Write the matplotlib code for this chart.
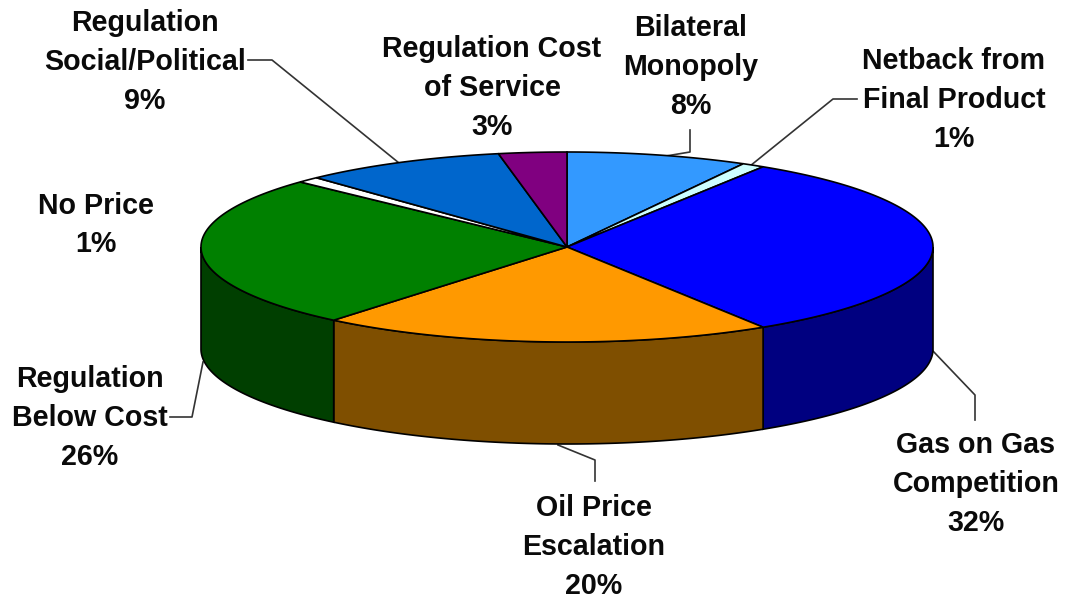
import numpy as np
import matplotlib
matplotlib.use("Agg")
import matplotlib.pyplot as plt
from matplotlib.patches import Polygon

names = ["Bilateral\nMonopoly", "Netback from\nFinal Product", "Gas on Gas\nCompetition",
         "Oil Price\nEscalation", "Regulation\nBelow Cost", "No Price",
         "Regulation\nSocial/Political", "Regulation Cost\nof Service"]
values = [8, 1, 32, 20, 26, 1, 9, 3]
top_colors = ["#3399ff", "#ccffff", "#0000ff", "#ff9900", "#008000", "#ffffff", "#0066cc", "#800080"]
side_colors = ["#1a4d80", "#668080", "#000080", "#7f4f00", "#003f00", "#808080", "#003366", "#400040"]

CX, CY, RX, RY, DEPTH = 567, 247, 366, 95, 102
label_pos = [(691, 67), (954, 100), (976, 484), (594, 547), (90, 418), (96, 225), (145, 62), (492, 88)]
leaders = [[(660, 157), (690, 152), (690, 130)], [(750, 166), (833, 99), (857, 99)],
           [(932, 350), (975, 395), (975, 420)], [(558, 445), (595, 460), (595, 481)],
           [(203, 362), (192, 417), (170, 417)], None,
           [(399, 163), (272, 60), (248, 60)], None]

def arc(a0, a1, dy=0):
    t = np.radians(np.linspace(a0, a1, max(int(abs(a1 - a0) * 2), 2)))
    return np.column_stack([CX + RX * np.sin(t), CY + dy - RY * np.cos(t)])

fig = plt.figure(figsize=(10.65, 5.99), dpi=100)
ax = fig.add_axes([0, 0, 1, 1])
ax.set_xlim(0, 1065)
ax.set_ylim(599, 0)
ax.axis("off")

edges = np.cumsum([0] + values) * 3.6
for i in range(len(values)):
    a0, a1 = edges[i], edges[i + 1]
    s0, s1 = max(a0, 90), min(a1, 270)
    if s1 > s0:
        pts = np.vstack([arc(s0, s1), arc(s1, s0, DEPTH)])
        ax.add_patch(Polygon(pts, closed=True, fc=side_colors[i], ec="black", lw=1.2, zorder=2))
for i in range(len(values)):
    pts = np.vstack([[(CX, CY)], arc(edges[i], edges[i + 1])])
    ax.add_patch(Polygon(pts, closed=True, fc=top_colors[i], ec="black", lw=1.2, zorder=3))

for line in leaders:
    if line:
        xy = np.array(line)
        ax.plot(xy[:, 0], xy[:, 1], color="#333333", lw=1.2, zorder=1)

for name, v, (x, y) in zip(names, values, label_pos):
    ax.text(x, y, f"{name}\n{v}%", ha="center", va="center", family="Liberation Sans",
            fontweight="bold", fontsize=20.6, color="#0a0a0a", linespacing=1.5, zorder=5)

fig.savefig("out.png", dpi=100, facecolor="white")
